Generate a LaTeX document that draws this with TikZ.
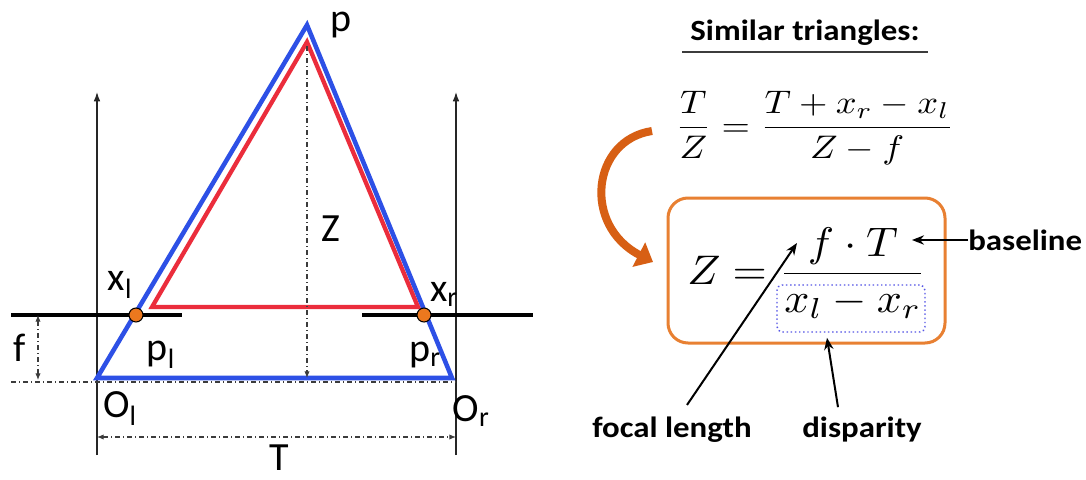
\documentclass[tikz,border=0pt]{standalone}
\usepackage{fontspec}
\usetikzlibrary{arrows.meta}
\newfontfamily\labfont{Carlito}
\definecolor{tblue}{RGB}{45,80,230}
\definecolor{tred}{RGB}{235,45,60}
\definecolor{dotor}{RGB}{235,120,30}
\definecolor{boxor}{RGB}{232,128,50}
\definecolor{arrowor}{RGB}{215,95,20}
\definecolor{dispblue}{RGB}{85,85,230}
\definecolor{dimgray}{RGB}{60,60,60}
\begin{document}
\begin{tikzpicture}[x=0.75pt,y=-0.75pt,
  thinln/.style={line width=0.9pt, draw=black!85},
  dimline/.style={line width=0.8pt, draw=dimgray, dash pattern=on 4pt off 2pt on 1pt off 2pt},
  planeln/.style={line width=2.6pt, draw=black},
  bluetri/.style={line width=3.4pt, draw=tblue, line join=miter},
  redtri/.style={line width=3.2pt, draw=tred, line join=miter},
  dotst/.style={circle, fill=dotor, draw=black, line width=0.8pt, minimum size=10.5pt, inner sep=0},
  lab/.style={font=\labfont\fontsize{30}{36}\selectfont, inner sep=0},
  ttl/.style={font=\labfont\bfseries\fontsize{22}{26}\selectfont, inner sep=0},
  obox/.style={draw=boxor, line width=2.25pt, rounded corners=15pt, inner sep=0},
  dbox/.style={draw=dispblue, line width=1.1pt, dotted, rounded corners=4pt, inner sep=0},
  blk/.style={line width=1.5pt, draw=black, -{Stealth[length=9pt,width=7pt]}},
  uparrow/.style={thinln, -{Latex[length=7pt,width=5pt]}},
  dimarrow/.style={dimline, {Latex[length=5pt,width=4pt]}-{Latex[length=5pt,width=4pt]}}
]
\fill[white] (0,0) rectangle (1086,479);
\useasboundingbox (0,0) rectangle (1086,479);

% ---------- left diagram ----------
\coordinate (P)  at (307,25);
\coordinate (Ol) at (97,378);
\coordinate (Or) at (452,378);
\coordinate (RP) at (307,42);
\coordinate (Rl) at (152,307);
\coordinate (Rr) at (418,307);

\coordinate (axLb) at (97,455);
\coordinate (axLt) at (97,92);
\coordinate (axRb) at (456,455);
\coordinate (axRt) at (456,92);
\draw[uparrow] (axLb) -- (axLt);
\draw[uparrow] (axRb) -- (axRt);

% baseline dash-dot
\coordinate (bl1) at (11,382);
\coordinate (bl2) at (456,382);
\draw[dimline] (bl1) -- (bl2);

% image planes
\coordinate (pl1) at (11,315);
\coordinate (pl2) at (182,315);
\coordinate (pr1) at (362,315);
\coordinate (pr2) at (533,315);
\draw[planeln] (pl1) -- (pl2);
\draw[planeln] (pr1) -- (pr2);

% triangles
\draw[bluetri] (Ol) -- (P) -- (Or) -- cycle;
\draw[redtri] (Rl) -- (RP) -- (Rr) -- cycle;

% Z line
\coordinate (zt) at (307,46);
\coordinate (zb) at (307,378);
\draw[dimline, -{Latex[length=5pt,width=4pt]}] (zt) -- (zb);

% f dimension
\coordinate (ft) at (38,315);
\coordinate (fb) at (38,380);
\draw[dimarrow] (ft) -- (fb);

% T dimension
\coordinate (tl) at (97,437);
\coordinate (tr) at (456,437);
\draw[dimarrow] (tl) -- (tr);

% dots
\node[dotst] (xl) at (136,315) {};
\node[dotst] (xr) at (424,315) {};

% labels
\node[lab] (lp)  at (341,25)  {p};
\node[lab] (lZ)  at (331,229) {Z};
\node[lab] (lxl) at (120,285) {x\textsubscript{l}};
\node[lab] (lxr) at (444,294) {x\textsubscript{r}};
\node[lab] (lf)  at (20,348)  {f};
\node[lab] (lpl) at (161,355) {p\textsubscript{l}};
\node[lab] (lpr) at (425,355) {p\textsubscript{r}};
\node[lab] (lOl) at (120,409) {O\textsubscript{l}};
\node[lab] (lOr) at (471,411) {O\textsubscript{r}};
\node[lab] (lT)  at (279,458) {T};

% ---------- right side ----------
\node[ttl] (title) at (805,33) {\scalebox{1.12}[1]{Similar triangles:}};
\coordinate (ul1) at (682,52);
\coordinate (ul2) at (928,52);
\draw[line width=1.6pt, draw=dimgray] (ul1) -- (ul2);

\node[anchor=base west, inner sep=0] (eq1) at (675,136)
  {\scalebox{2.74}[2.45]{$\displaystyle \frac{T}{Z} = \frac{T+x_r-x_l}{Z-f}$}};

\node[obox, minimum width=207.75pt, minimum height=108.75pt] (box) at (806.5,270.5) {};
\node[dbox, minimum width=111pt, minimum height=35.25pt] (disp) at (851,308.5) {};

\node[anchor=base west, inner sep=0] (eq2) at (687,284)
  {\scalebox{3.3}[3.1]{$\displaystyle Z = \frac{f\cdot T}{x_l - x_r}$}};

% curved orange arrow
\coordinate (arcS) at (652,131);
\coordinate (arcE) at (653,262);
\draw[line width=6pt, draw=arrowor, -{Triangle[length=12pt,width=20pt]}]
  (arcS) .. controls (592,140) and (582,225) .. (arcE);

% labels and arrows
\node[ttl, anchor=west] (base) at (968,240) {\scalebox{1.12}[1]{baseline}};
\node[ttl] (focal) at (672,430) {\scalebox{1.12}[1]{focal length}};
\node[ttl] (dispL) at (862,430) {\scalebox{1.12}[1]{disparity}};

\coordinate (btip) at (912,240);
\draw[blk] (base.west) -- (btip);
\coordinate (ftip) at (797,243);
\draw[blk] ([shift={(15,-12)}]focal.north) -- (ftip);
\draw[blk] ([shift={(-24,-10)}]dispL.north) -- ([shift={(-24,5)}]disp.south);
\end{tikzpicture}
\end{document}
